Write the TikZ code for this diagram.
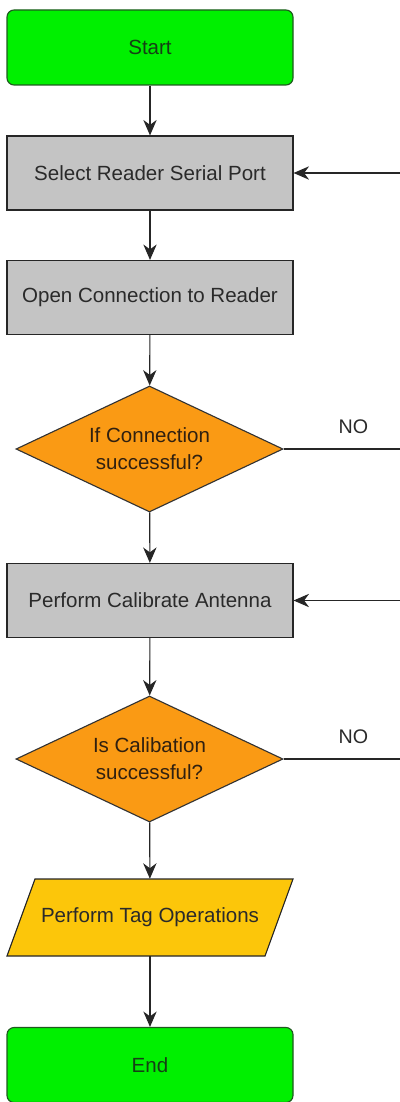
\documentclass[tikz,border=0pt]{standalone}
\usepackage{fontspec}
\setmainfont{Liberation Sans}
\usetikzlibrary{shapes.geometric,arrows.meta}
\definecolor{startgreen}{HTML}{00F000}
\definecolor{greenedge}{HTML}{1E5A1E}
\definecolor{boxgray}{HTML}{C4C4C4}
\definecolor{diaorange}{HTML}{FA9A14}
\definecolor{paragold}{HTML}{FCC60A}
\definecolor{txt}{HTML}{2A2A2A}
\begin{document}
\begin{tikzpicture}[x=0.025cm,y=-0.025cm,
  font=\fontsize{14.6pt}{17pt}\selectfont,
  term/.style={draw=greenedge,line width=0.8pt,fill=startgreen,rounded corners=5pt,
    minimum width=286*0.025cm,minimum height=75*0.025cm,inner sep=0pt,text=greenedge!70!black},
  proc/.style={draw=black!85,line width=0.8pt,fill=boxgray,
    minimum width=286*0.025cm,minimum height=74*0.025cm,inner sep=0pt,text=txt},
  dec/.style={diamond,draw=black!80,line width=0.8pt,fill=diaorange,aspect=2.12,
    minimum width=267*0.025cm,minimum height=126*0.025cm,inner sep=0pt,align=center,
    text=black!75!brown,font=\fontsize{14.6pt}{19pt}\selectfont},
  arr/.style={-{Stealth[length=11pt,width=9.5pt,inset=3.5pt]},line width=0.8pt,black!85},
  ln/.style={line width=0.8pt,black!85}]
\useasboundingbox (0,0) rectangle (400,1102);
\node[term] (start) at (150,47.5) {Start};
\node[proc] (sel) at (150,173) {Select Reader Serial Port};
\node[proc] (open) at (150,297.5) {Open Connection to Reader};
\node[dec] (d1) at (149.5,449) {If Connection\\successful?};
\node[proc] (cal) at (150,600.5) {Perform Calibrate Antenna};
\node[dec] (d2) at (149.5,759) {Is Calibation\\successful?};
\draw[draw=black!85,line width=0.8pt,fill=paragold] (7,956) -- (35,879) -- (293,879) -- (265,956) -- cycle;
\node[minimum width=230*0.025cm,minimum height=77*0.025cm,inner sep=0pt,text=txt] (tag) at (150,917.5) {Perform Tag Operations};
\node[term] (end) at (150,1065) {End};
\coordinate (r1) at (400,173);
\coordinate (r2) at (400,449);
\coordinate (r3) at (400,600.5);
\coordinate (r4) at (400,759);
\draw[arr] (start) -- (sel);
\draw[arr] (sel) -- (open);
\draw[arr] (open) -- (d1);
\draw[arr] (d1) -- (cal);
\draw[arr] (cal) -- (d2);
\draw[arr] (d2) -- (tag);
\draw[arr] (tag) -- (end);
\draw[arr] (r1) -- (sel);
\draw[arr] (r3) -- (cal);
\draw[ln] (d1.east) -- node[above=7pt,pos=0.6,text=txt,font=\fontsize{14pt}{16pt}\selectfont] (no1) {NO} (r2);
\draw[ln] (d2.east) -- node[above=7pt,pos=0.6,text=txt,font=\fontsize{14pt}{16pt}\selectfont] (no2) {NO} (r4);
\end{tikzpicture}
\end{document}
